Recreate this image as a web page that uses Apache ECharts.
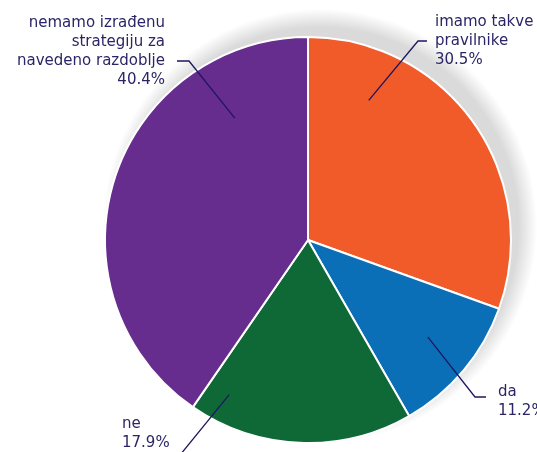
<!DOCTYPE html>
<html>
<head>
<meta charset="utf-8">
<script src="https://cdn.jsdelivr.net/npm/echarts@6/dist/echarts.min.js"></script>
<style>
html,body{margin:0;padding:0;background:#fff;}
#chart{width:537px;height:452px;}
</style>
</head>
<body>
<div id="chart"></div>
<script>
// ---- data ----
const categories = ['imamo takve pravilnike', 'da', 'ne', 'nemamo izrađenu strategiju za navedeno razdoblje'];
const labelNames = ['imamo takve\npravilnike', 'da', 'ne', 'nemamo izrađenu\nstrategiju za\nnavedeno razdoblje'];
const values = [30.5, 11.2, 17.9, 40.4];

// ---- styles / layout ----
const colors = ['#F15A29', '#0B6FB8', '#0E6937', '#662D8F'];
const textColor = '#2B2566';
const lineColor = '#1D1660';
const center = [308, 240];
const radius = 203;
// leader line anchors: angle (deg, math) and fraction of radius; bend & end points; text anchor
const leader = [
  {ang: 66.5, f: 0.75, bend: [418, 41], end: [427, 41], tx: 435, ty: 12.5, align: 'left'},
  {ang: -39, f: 0.76, bend: [475, 397], end: [486, 397], tx: 498, ty: 383, align: 'left'},
  {ang: -117, f: 0.855, bend: [176, 460], end: [166, 460], tx: 122, ty: 415, align: 'left'},
  {ang: 121, f: 0.70, bend: [189, 61], end: [177, 61], tx: 165, ty: 13.5, align: 'right'}
];

const chart = echarts.init(document.getElementById('chart'), null, {renderer: 'canvas'});

const pieData = categories.map((c, i) => ({
  name: c,
  value: values[i],
  itemStyle: {color: colors[i]}
}));

const leaderLines = leader.map(L => {
  const a = L.ang * Math.PI / 180;
  const sx = center[0] + radius * L.f * Math.cos(a);
  const sy = center[1] - radius * L.f * Math.sin(a);
  return {
    type: 'polyline',
    z: 100,
    silent: true,
    shape: {points: [[sx, sy], L.bend, L.end]},
    style: {stroke: lineColor, lineWidth: 1.3, fill: null}
  };
});

chart.setOption({
  animation: false,
  backgroundColor: '#fff',
  graphic: leaderLines,
  series: [
    {
      type: 'pie',
      silent: true,
      center: [320, 226],
      radius: 217,
      label: {show: false},
      labelLine: {show: false},
      data: [{value: 1, itemStyle: {color: {
        type: 'radial', x: 0.5, y: 0.5, r: 0.5,
        colorStops: [
          {offset: 0, color: '#dadada'},
          {offset: 0.915, color: '#dadada'},
          {offset: 1, color: 'rgba(218,218,218,0)'}
        ]
      }}}]
    },
    {
      type: 'pie',
      center: center,
      radius: radius,
      startAngle: 90,
      clockwise: true,
      avoidLabelOverlap: false,
      itemStyle: {borderColor: '#fff', borderWidth: 2},
      label: {
        show: true,
        position: 'outside',
        color: textColor,
        fontFamily: 'DejaVu Sans',
        fontSize: 15,
        lineHeight: 19,
        formatter: p => labelNames[p.dataIndex] + '\n' + values[p.dataIndex].toFixed(1) + '%'
      },
      labelLine: {show: false},
      labelLayout: function (p) {
        const L = leader[p.dataIndex];
        return {x: L.tx, y: L.ty, align: L.align, verticalAlign: 'top'};
      },
      data: pieData
    }
  ]
});
</script>
</body>
</html>
